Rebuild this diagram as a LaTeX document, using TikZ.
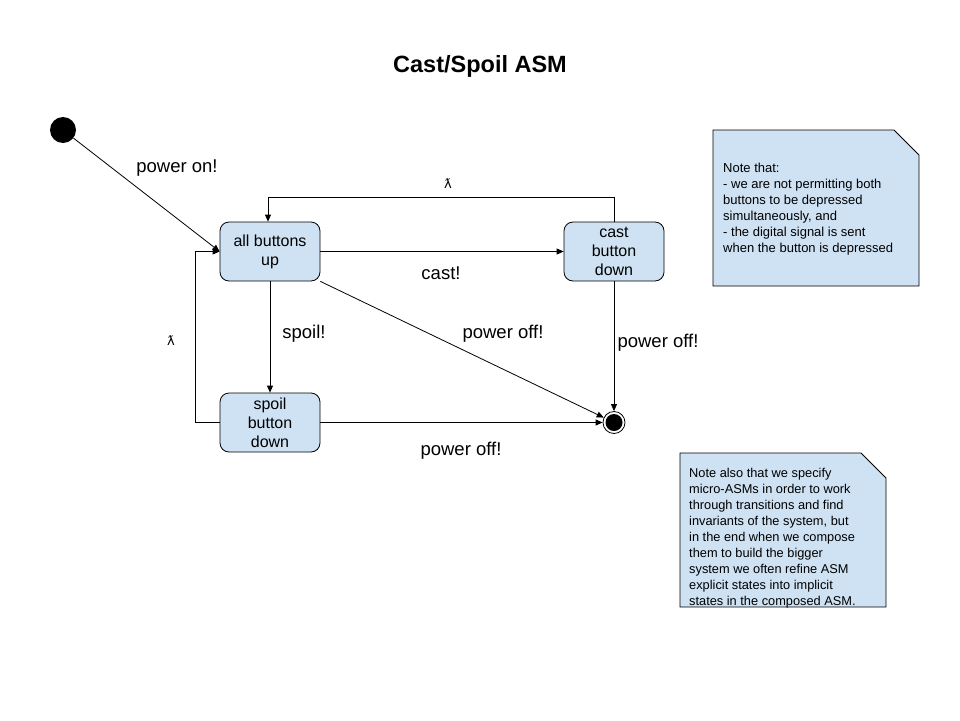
\documentclass[tikz,border=0pt]{standalone}
\usepackage{fontspec}
\setmainfont{Liberation Sans}
\newfontfamily\dejavu{DejaVu Sans}
\usetikzlibrary{arrows.meta}
\definecolor{boxblue}{HTML}{CFE2F3}
\tikzset{
  statebox/.style={draw=black, fill=boxblue, rounded corners=9pt, minimum width=100pt, minimum height=59pt, align=center, inner sep=2pt, line width=0.8pt, font=\fontsize{16}{19}\selectfont},
  arr/.style={line width=0.8pt, -{Triangle[length=7pt,width=6pt]}},
  lbl/.style={font=\fontsize{18.5}{22}\selectfont, inner sep=0pt},
  lam/.style={font=\dejavu\fontsize{13}{15}\selectfont, inner sep=0pt},
  notebox/.style={draw=black, fill=boxblue, line width=0.8pt},
  notetext/.style={align=left, anchor=north west, inner sep=0pt},
}
\begin{document}
\begin{tikzpicture}[x=1pt,y=-1pt]
\path[use as bounding box, fill=white] (0,0) rectangle (960,720);

\node[font=\bfseries\fontsize{23.5}{28}\selectfont] (title) at (480,66) {Cast/Spoil ASM};

\node[circle, fill=black, minimum size=26pt, inner sep=0pt] (start) at (63,130) {};
\node[statebox] (all) at (270,251.5) {all buttons\\up};
\node[statebox] (cast) at (614,251.5) {cast\\button\\down};
\node[statebox] (spoil) at (270,422.5) {spoil\\button\\down};
\node[circle, draw=black, line width=0.8pt, minimum size=22pt, inner sep=0pt] (final) at (614,422.5) {};
\fill[black] (final.center) circle (8.5);

\coordinate (castup) at (614,197);
\coordinate (allup) at (268,197);
\coordinate (spoilleft) at (195,422.5);

\draw[arr] (start) -- (all.west);
\draw[arr] (all.east) -- (cast.west);
\draw[arr] (cast.north) -- (castup) -- (allup) -- (all.north -| allup);
\draw[arr] (all.south) -- (spoil.north);
\draw[arr] (spoil.west) -- (spoilleft) |- (all.west);
\draw[arr] (all.south east) -- (final);
\draw[arr] (cast.south) -- (final);
\draw[arr] (spoil.east) -- (final);

\node[lbl] (l1) at (177,168) {power on!};
\node[lbl] (l2) at (441,273) {cast!};
\node[lam] (l3) at (448,184) {ƛ};
\node[lam] (l4) at (171,341) {ƛ};
\node[lbl] (l5) at (304,334) {spoil!};
\node[lbl] (l6) at (503,334) {power off!};
\node[lbl] (l7) at (658,343) {power off!};
\node[lbl] (l8) at (461,451) {power off!};

\draw[notebox] (713,130) -- (894,130) -- (919,155) -- (919,286) -- (713,286) -- cycle;
\node[notetext, font=\fontsize{13}{16}\selectfont] (n1) at (723,163) {Note that:\\- we are not permitting both\\buttons to be depressed\\simultaneously, and\\- the digital signal is sent\\when the button is depressed};

\draw[notebox] (680,453) -- (861,453) -- (886,478) -- (886,607) -- (680,607) -- cycle;
\node[notetext, font=\fontsize{12.8}{16}\selectfont] (n2) at (689,468) {Note also that we specify\\micro-ASMs in order to work\\through transitions and find\\invariants of the system, but\\in the end when we compose\\them to build the bigger\\system we often refine ASM\\explicit states into implicit\\states in the composed ASM.};
\end{tikzpicture}
\end{document}
